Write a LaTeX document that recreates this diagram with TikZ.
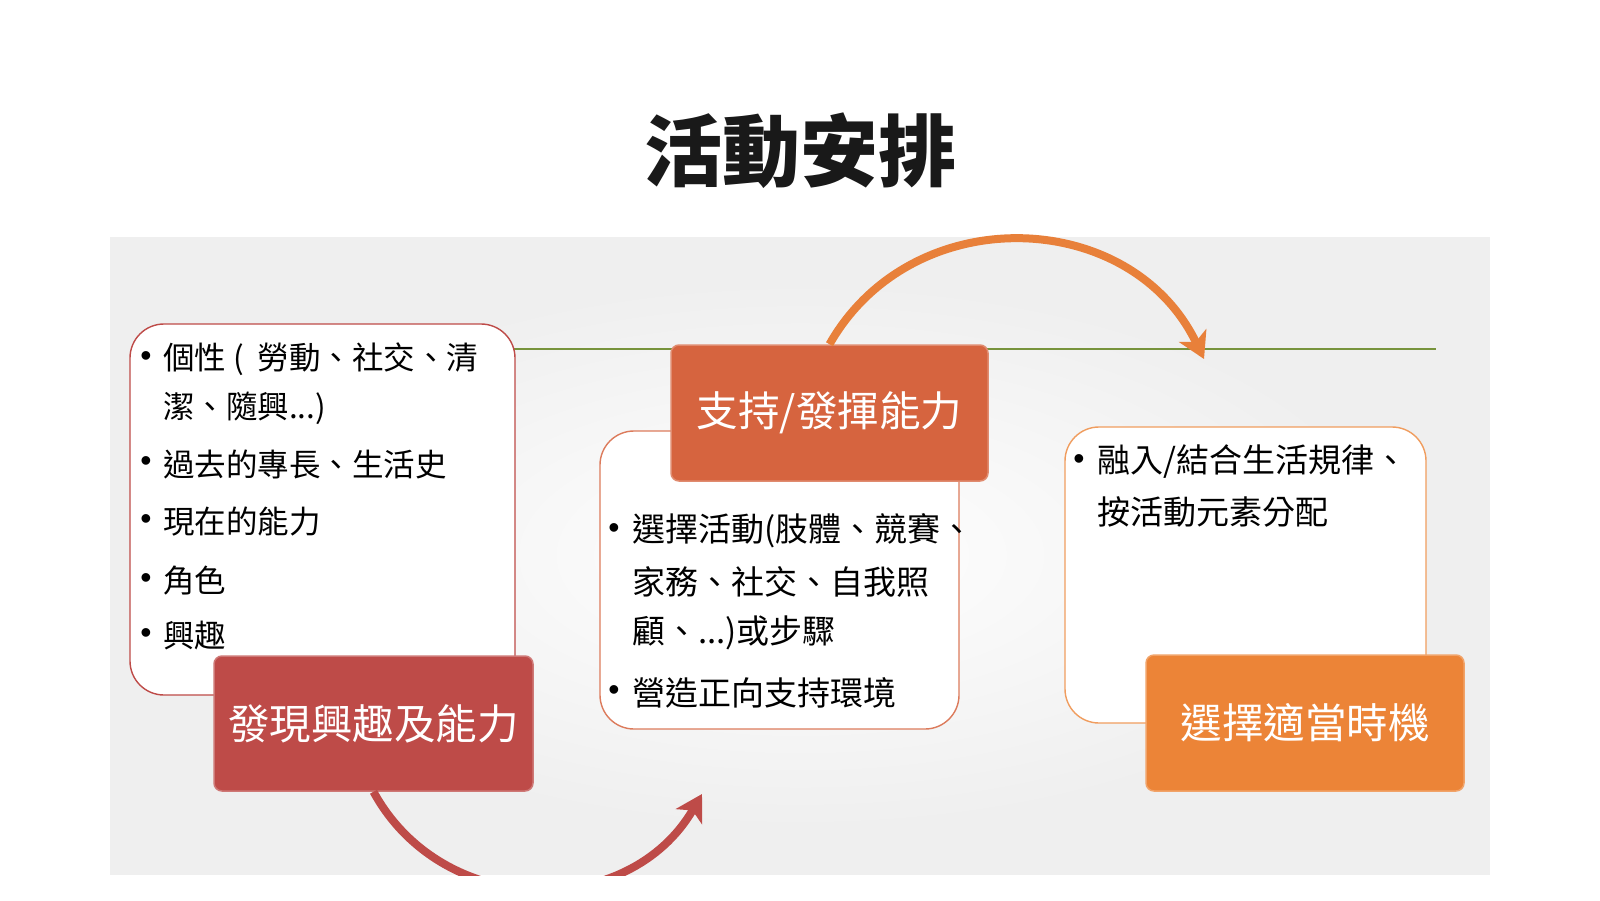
\documentclass[tikz,border=0pt]{standalone}
\usepackage{fontspec}
\newfontfamily\cjk{Noto Sans CJK TC}
\newfontfamily\bulfont{Liberation Sans}
\usetikzlibrary{arrows.meta}
\definecolor{panelgray}{HTML}{EFEFEF}
\definecolor{lineGreen}{HTML}{77933C}
\definecolor{redA}{HTML}{BE4B48}
\definecolor{redB}{HTML}{D6643F}
\definecolor{orC}{HTML}{EC8437}
\definecolor{arrowOr}{HTML}{E8803A}
\begin{document}
\begin{tikzpicture}[x=1pt,y=-1pt,
  titletxt/.style={font=\cjk\bfseries\fontsize{78}{78}\selectfont, text=black!90, inner sep=0},
  tbox/.style={draw=#1, line width=1.4pt, fill=white, rounded corners=34pt, inner sep=0},
  lab/.style={fill=#1, draw=#1!75!white, line width=1.5pt, rounded corners=8pt, inner sep=0,
              text=white, font=\cjk\fontsize{41.5}{41.5}\selectfont},
  btxt/.style={font=\cjk\fontsize{#1}{#1}\selectfont, text=black, anchor=west, inner sep=0},
  btxt/.default=33,
  bul/.style={font=\bulfont\fontsize{32}{32}\selectfont, text=black, anchor=center, inner sep=0},
  arr/.style={draw=#1, line width=8pt, -{Stealth[length=26pt,width=30pt,inset=7pt]}}
]
\useasboundingbox (0,0) rectangle (1600,900);
\fill[white] (0,0) rectangle (1600,900);

% title
\node[titletxt] (title) at (800,151) {活動安排};

% panel
\fill[panelgray] (110,237) rectangle (1490,875);
\shade[inner color=white, outer color=panelgray] (200,280) rectangle (1400,830);

% green line
\coordinate (g1) at (135,349);
\coordinate (g2) at (1436,349);
\draw[lineGreen, line width=2pt] (g1) -- (g2);

% top arrow coordinates
\coordinate (t2) at (1204,359);

% text boxes
\node[tbox=redA, minimum width=385pt, minimum height=371pt] (box1) at (322.5,509.5) {};
\node[tbox=redB!85!white, minimum width=359pt, minimum height=298pt] (box2) at (779.5,580) {};
\node[tbox=orC!80!white, minimum width=361pt, minimum height=296pt] (box3) at (1245.5,575) {};

% left box texts
\node[bul] (b11) at (146,359) {•};
\node[btxt=31.5] (l11) at (163,359) {個性 (\hspace{7pt} 勞動、社交、清};
\node[btxt=31.5] (l12) at (163,408) {潔、隨興...)};
\node[bul] (b12) at (146,464) {•};
\node[btxt=31.5] (l13) at (163,464) {過去的專長、生活史};
\node[bul] (b13) at (146,522) {•};
\node[btxt=31.5] (l14) at (163,522) {現在的能力};
\node[bul] (b14) at (146,581) {•};
\node[btxt=31.5] (l15) at (163,581) {角色};
\node[bul] (b15) at (146,636) {•};
\node[btxt=31.5] (l16) at (163,636) {興趣};

% middle box texts
\node[bul] (b21) at (614,531) {•};
\node[btxt] (l21) at (632,531) {選擇活動(肢體、競賽、};
\node[btxt] (l22) at (632,582) {家務、社交、自我照};
\node[btxt] (l23) at (632,633) {顧、...)或步驟};
\node[bul] (b22) at (614,693) {•};
\node[btxt] (l24) at (632,693) {營造正向支持環境};

% right box texts
\node[bul] (b31) at (1079,462) {•};
\node[btxt] (l31) at (1097,462) {融入/結合生活規律、};
\node[btxt] (l32) at (1097,512) {按活動元素分配};

% label boxes
\node[lab=redA, minimum width=319pt, minimum height=135pt] (lab1) at (373.5,723.5) {發現興趣及能力};
\node[lab=redB, minimum width=317pt, minimum height=136pt] (lab2) at (829.5,413) {支持/發揮能力};
\node[lab=orC, minimum width=318pt, minimum height=136pt] (lab3) at (1305,723) {選擇適當時機};

% arrows
\coordinate (t1) at (702,794);
\begin{scope}
  \clip (110,237) rectangle (1490,875);
  \draw[arr=redA] (lab1.south) .. controls (443,919) and (629,920) .. (t1);
\end{scope}
\draw[arr=arrowOr] (lab2.north) .. controls (912,199) and (1131,207) .. (t2);
\end{tikzpicture}
\end{document}
